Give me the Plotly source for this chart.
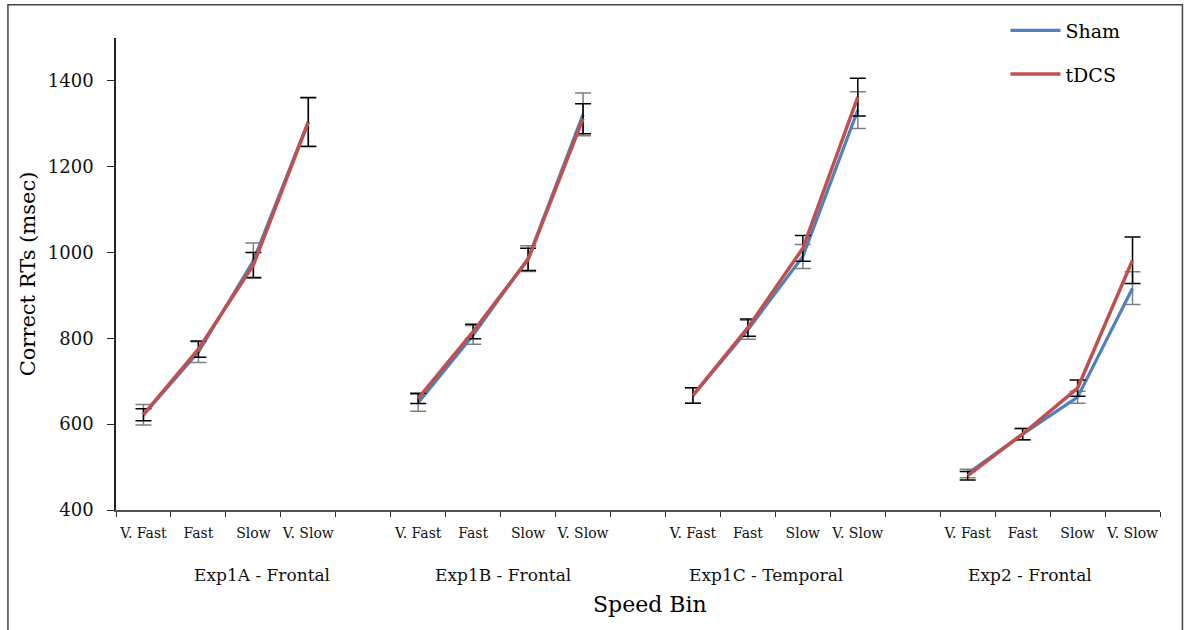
import plotly.graph_objects as go

# Speed bins and experiments
speed_bins = ["V. Fast", "Fast", "Slow", "V. Slow"]
experiments = ["Exp1A - Frontal", "Exp1B - Frontal", "Exp1C - Temporal", "Exp2 - Frontal"]

# Mean correct RTs (msec), one row per experiment
sham_rt = [
    [622, 768, 981, 1305],
    [650, 808, 986, 1322],
    [667, 820, 991, 1332],
    [485, 577, 663, 917],
]
sham_err = [
    [24, 24, 41, 57],
    [20, 22, 30, 50],
    [18, 22, 28, 43],
    [10, 13, 14, 38],
]
tdcs_rt = [
    [622, 775, 971, 1304],
    [660, 816, 984, 1312],
    [667, 825, 1010, 1362],
    [480, 577, 684, 982],
]
tdcs_err = [
    [14, 19, 29, 57],
    [12, 17, 26, 35],
    [18, 20, 30, 44],
    [10, 13, 19, 54],
]

FONT = "DejaVu Serif"
SHAM_COLOR = "#4F81BD"
TDCS_COLOR = "#C0504D"

n_bins = len(speed_bins)
slot = n_bins + 1  # one empty slot separates experiments
n_slots = slot * len(experiments) - 1


def flatten(rows):
    xs, ys = [], []
    for g, row in enumerate(rows):
        for b, v in enumerate(row):
            xs.append(g * slot + b)
            ys.append(v)
        if g < len(rows) - 1:
            xs.append(g * slot + n_bins)
            ys.append(None)
    return xs, ys


sx, sy = flatten(sham_rt)
_, se = flatten(sham_err)
tx, ty = flatten(tdcs_rt)
_, te = flatten(tdcs_err)

fig = go.Figure()
fig.add_trace(go.Scatter(
    x=sx, y=sy, name="Sham", mode="lines", connectgaps=False,
    line=dict(color=SHAM_COLOR, width=3.2),
    error_y=dict(type="data", array=se, color="#7f7f7f", thickness=1.5, width=8),
    legendgroup="sham",
))
fig.add_trace(go.Scatter(
    x=tx, y=ty, name="tDCS", mode="lines", connectgaps=False,
    line=dict(color=TDCS_COLOR, width=3.5),
    error_y=dict(type="data", array=te, color="#000000", thickness=1.5, width=8),
    legendgroup="tdcs",
))

# category labels at slot centres, tick marks at slot boundaries
tick_centres = [g * slot + b for g in range(len(experiments)) for b in range(n_bins)]
tick_text = speed_bins * len(experiments)
boundaries = [i - 0.5 for i in range(n_slots + 1)]

fig.update_xaxes(
    range=[-0.5, n_slots - 0.5],
    tickmode="array", tickvals=tick_centres, ticktext=tick_text,
    ticks="", ticklen=0, ticklabelstandoff=9,
    tickfont=dict(family=FONT, size=14, color="#111"),
    showline=True, linecolor="#555", linewidth=2,
    showgrid=False, zeroline=False,
    minor=dict(tickmode="array", tickvals=boundaries, ticks="outside",
               ticklen=5, tickwidth=1.2, tickcolor="#333", showgrid=False),
)
fig.update_yaxes(
    range=[400, 1500],
    tickmode="array", tickvals=[400, 600, 800, 1000, 1200, 1400],
    ticks="outside", ticklen=7, tickwidth=1.2, tickcolor="#222",
    ticklabelstandoff=10,
    tickfont=dict(family=FONT, size=18, color="#111"),
    showline=True, linecolor="#222", linewidth=1.5,
    showgrid=False, zeroline=False,
    title=dict(text="Correct RTs (msec)", font=dict(family=FONT, size=21, color="#000"),
               standoff=6),
)

# experiment labels beneath the speed bins
group_label_x = [2.15, 6.54, 11.33, 16.13]
annotations = [
    dict(x=gx, y=-0.137, xref="x", yref="paper", text=name, showarrow=False,
         font=dict(family=FONT, size=17, color="#111"), xanchor="center", yanchor="middle")
    for gx, name in zip(group_label_x, experiments)
]
annotations.append(dict(
    x=0.5115, y=-0.2, xref="paper", yref="paper", text="Speed Bin", showarrow=False,
    font=dict(family=FONT, size=22, color="#000"), xanchor="center", yanchor="middle"))

fig.update_layout(
    width=1191, height=630,
    margin=dict(l=116, r=31, t=38, b=120, autoexpand=False),
    paper_bgcolor="white", plot_bgcolor="white",
    font=dict(family=FONT),
    showlegend=True,
    legend=dict(
        x=0.852, y=1.056, xanchor="left", yanchor="top",
        traceorder="grouped", tracegroupgap=16, itemwidth=50,
        font=dict(family=FONT, size=19, color="#000"),
        bgcolor="rgba(0,0,0,0)",
    ),
    annotations=annotations,
    shapes=[dict(type="rect", xref="paper", yref="paper",
                 x0=-0.1035, x1=1.0215, y0=-0.4, y1=1.0705,
                 line=dict(color="#444", width=1.5), fillcolor="rgba(0,0,0,0)", layer="below")],
)

fig.write_html("out.html")
